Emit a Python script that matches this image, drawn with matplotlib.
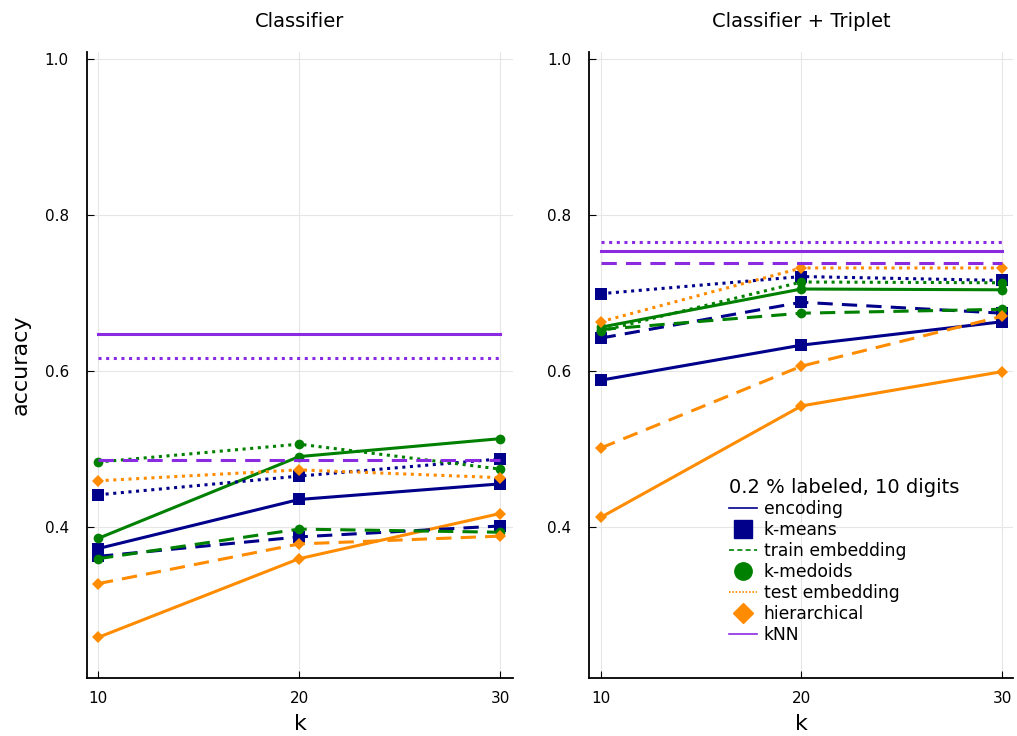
import matplotlib.pyplot as plt
from matplotlib.lines import Line2D

k = [10, 20, 30]

# Classifier panel
c_enc_kmeans = [0.372, 0.435, 0.455]
c_enc_kmedoids = [0.385, 0.490, 0.513]
c_enc_hier = [0.258, 0.359, 0.417]
c_train_kmeans = [0.362, 0.387, 0.401]
c_train_kmedoids = [0.359, 0.397, 0.393]
c_train_hier = [0.327, 0.378, 0.388]
c_test_kmeans = [0.441, 0.465, 0.487]
c_test_kmedoids = [0.483, 0.506, 0.474]
c_test_hier = [0.459, 0.473, 0.463]
c_knn = [0.647, 0.486, 0.617]  # encoding, train, test

# Classifier + Triplet panel
t_enc_kmeans = [0.588, 0.633, 0.663]
t_enc_kmedoids = [0.656, 0.705, 0.704]
t_enc_hier = [0.412, 0.555, 0.599]
t_train_kmeans = [0.642, 0.688, 0.674]
t_train_kmedoids = [0.653, 0.674, 0.679]
t_train_hier = [0.501, 0.606, 0.670]
t_test_kmeans = [0.699, 0.721, 0.716]
t_test_kmedoids = [0.651, 0.714, 0.713]
t_test_hier = [0.663, 0.732, 0.732]
t_knn = [0.754, 0.738, 0.765]

navy = "#00008B"
green = "#008000"
orange = "#FF8C00"
purple = "#8A2BE2"

styles = {"encoding": "-", "train": (0, (5, 3)), "test": (0, (1, 1.5))}
marks = {"kmeans": ("s", navy, 8.5), "kmedoids": ("o", green, 7), "hier": ("D", orange, 6)}

panels = [
    ("Classifier", {
        ("encoding", "kmeans"): c_enc_kmeans, ("encoding", "kmedoids"): c_enc_kmedoids,
        ("encoding", "hier"): c_enc_hier, ("train", "kmeans"): c_train_kmeans,
        ("train", "kmedoids"): c_train_kmedoids, ("train", "hier"): c_train_hier,
        ("test", "kmeans"): c_test_kmeans, ("test", "kmedoids"): c_test_kmedoids,
        ("test", "hier"): c_test_hier}, c_knn,
     [0.0855, 0.0788, 0.419, 0.8505], (9.45, 30.65)),
    ("Classifier + Triplet", {
        ("encoding", "kmeans"): t_enc_kmeans, ("encoding", "kmedoids"): t_enc_kmedoids,
        ("encoding", "hier"): t_enc_hier, ("train", "kmeans"): t_train_kmeans,
        ("train", "kmedoids"): t_train_kmedoids, ("train", "hier"): t_train_hier,
        ("test", "kmeans"): t_test_kmeans, ("test", "kmedoids"): t_test_kmedoids,
        ("test", "hier"): t_test_hier}, t_knn,
     [0.5792, 0.0788, 0.417, 0.8505], (9.42, 30.55)),
]

fig = plt.figure(figsize=(10.17, 7.36), dpi=100)

for i, (title, series, knn, pos, xl) in enumerate(panels):
    ax = fig.add_axes(pos)
    for (emb, meth), vals in series.items():
        m, col, ms = marks[meth]
        ax.plot(k, vals, linestyle=styles[emb], color=col, lw=2.2,
                marker=m, markersize=ms, markeredgewidth=0)
    for emb, val in zip(["encoding", "train", "test"], knn):
        ax.plot([k[0], k[-1]], [val, val], linestyle=styles[emb], color=purple, lw=2.2)
    ax.set_xlim(*xl)
    ax.set_ylim(0.206, 1.009)
    ax.set_xticks(k)
    ax.set_yticks([0.4, 0.6, 0.8, 1.0])
    ax.set_yticklabels(["0.4", "0.6", "0.8", "1.0"])
    ax.grid(True, color="#e6e6e6", lw=0.8)
    ax.set_axisbelow(True)
    for s in ["top", "right"]:
        ax.spines[s].set_visible(False)
    ax.spines["left"].set_linewidth(1.3)
    ax.spines["bottom"].set_linewidth(1.3)
    ax.tick_params(direction="in", length=5, labelsize=11)
    ax.tick_params(axis="y", pad=13)
    ax.tick_params(axis="x", pad=9)
    ax.set_title(title, fontsize=14, pad=18)
    ax.set_xlabel("k", fontsize=16, labelpad=6)
    if i == 0:
        ax.set_ylabel("accuracy", fontsize=16, labelpad=10)
    else:
        handles = [
            Line2D([], [], color=navy, lw=1.2, linestyle="-"),
            Line2D([], [], color=navy, marker="s", linestyle="none", markersize=13.5),
            Line2D([], [], color=green, lw=1.2, linestyle=(0, (3, 2))),
            Line2D([], [], color=green, marker="o", linestyle="none", markersize=12.5),
            Line2D([], [], color=orange, lw=1.2, linestyle=(0, (1, 1))),
            Line2D([], [], color=orange, marker="D", linestyle="none", markersize=10),
            Line2D([], [], color=purple, lw=1.2, linestyle="-"),
        ]
        labels = ["encoding", "k-means", "train embedding", "k-medoids",
                  "test embedding", "hierarchical", "kNN"]
        leg = ax.legend(handles, labels, title="0.2 % labeled, 10 digits",
                        loc="upper left", bbox_to_anchor=(0.315, 0.33),
                        frameon=False, fontsize=12.3, title_fontsize=14,
                        handlelength=1.6, handletextpad=0.4, labelspacing=0.17,
                        borderaxespad=0)
        leg._legend_box.align = "left"

fig.savefig("out.png", dpi=100)
